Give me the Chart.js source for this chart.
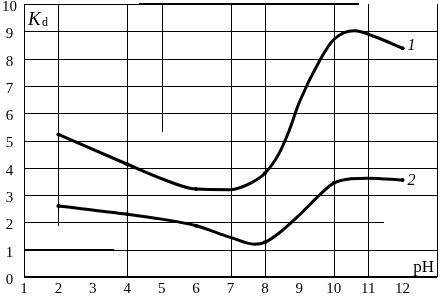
<!DOCTYPE html>
<html>
<head>
<meta charset="utf-8">
<script src="https://cdn.jsdelivr.net/npm/chart.js@4/dist/chart.umd.min.js"></script>
<style>
  html, body { margin: 0; padding: 0; background: #fff; }
  #wrap { width: 441px; height: 297px; }
</style>
</head>
<body>
<div id="wrap"><canvas id="kdChart"></canvas></div>
<script>
'use strict';
// data
var phTicks = [1, 2, 3, 4, 5, 6, 7, 8, 9, 10, 11, 12];
var kdTicks = [0, 1, 2, 3, 4, 5, 6, 7, 8, 9, 10];

var curve1Ph = [2, 4, 5, 6, 7, 7.6, 8, 8.4, 8.7, 9, 9.6, 10, 10.6, 11.2, 12];
var curve1Kd = [5.22, 4.13, 3.6, 3.22, 3.2, 3.45, 3.8, 4.5, 5.35, 6.4, 7.95, 8.7, 9.02, 8.8, 8.38];
var curve1Marks = [2, 4, 6, 8, 12];

var curve2Ph = [2, 4, 5, 6, 7, 7.7, 8, 8.5, 9, 9.6, 10, 10.5, 11, 12];
var curve2Kd = [2.6, 2.3, 2.12, 1.88, 1.45, 1.2, 1.27, 1.7, 2.27, 3.02, 3.44, 3.6, 3.62, 3.55];
var curve2Marks = [2, 4, 6, 8, 10, 12];

// grid pieces of the original figure (pH from, pH to, Kd from, Kd to)
var gridLines = [
  [1, 1, 0, 10], [2, 2, 1.88, 10], [4, 4, 0, 10], [5, 5, 5.3, 10],
  [7, 7, 0, 10], [8, 8, 0, 10], [10, 10, 0, 10], [11, 11, 0, 10], [13, 13, 0, 10],
  [1, 13, 9, 9], [1, 13, 8, 8], [1, 13, 7, 7], [1, 13, 6, 6], [1, 13, 5, 5],
  [1, 13, 4, 4], [1, 13, 3, 3], [1, 11.46, 2, 2], [1, 13, 1, 1], [1, 4.33, 10, 10]
];
var thickLines = [[1, 3.61, 1, 1], [4.33, 10.74, 10, 10], [1, 13, 0, 0]];

function toPoints(xs, ys){
  var pts = [];
  for (var i = 0; i < xs.length; i++){
    pts.push({x: xs[i], y: ys[i]});
  }
  return pts;
}

var serif = '"Liberation Serif", "DejaVu Serif", serif';

var figurePlugin = {
  id: 'figure',
  beforeDatasetsDraw: function(chart){
    var c = chart.ctx;
    var xs = chart.scales.x;
    var ys = chart.scales.y;
    c.save();
    c.strokeStyle = '#000';
    c.lineCap = 'butt';
    function seg(s, w){
      var x1 = Math.round(xs.getPixelForValue(s[0]));
      var x2 = Math.round(xs.getPixelForValue(s[1]));
      var y1 = Math.round(ys.getPixelForValue(s[2]));
      var y2 = Math.round(ys.getPixelForValue(s[3]));
      var off = (w % 2) ? 0.5 : 0;
      c.lineWidth = w;
      c.beginPath();
      if (x1 === x2){
        c.moveTo(x1 + off, y1);
        c.lineTo(x1 + off, y2);
      } else {
        c.moveTo(x1, y1 + off);
        c.lineTo(x2, y2 + off);
      }
      c.stroke();
    }
    gridLines.forEach(function(s){ seg(s, 1); });
    thickLines.forEach(function(s){ seg(s, 2); });
    c.restore();
  },
  afterDatasetsDraw: function(chart){
    var c = chart.ctx;
    var xs = chart.scales.x;
    var ys = chart.scales.y;
    c.save();
    c.fillStyle = '#000';
    c.textBaseline = 'alphabetic';
    // axis names
    c.font = 'italic 19px ' + serif;
    c.textAlign = 'left';
    c.fillText('K', 28, 25);
    c.font = '12px ' + serif;
    c.fillText('d', 42, 26);
    c.font = '17px ' + serif;
    c.textAlign = 'right';
    c.fillText('pH', 434, 272);
    // curve numbers next to the last points
    c.font = 'italic 16px ' + serif;
    c.textAlign = 'left';
    c.textBaseline = 'middle';
    var last1 = curve1Ph.length - 1;
    var last2 = curve2Ph.length - 1;
    c.fillText('1', xs.getPixelForValue(curve1Ph[last1]) + 5, ys.getPixelForValue(curve1Kd[last1]) - 2);
    c.fillText('2', xs.getPixelForValue(curve2Ph[last2]) + 5, ys.getPixelForValue(curve2Kd[last2]) + 1);
    c.restore();
  }
};

function markRadius(marks){
  return function(ctx){
    return marks.indexOf(ctx.raw.x) >= 0 ? 2 : 0;
  };
}

var ctx = document.getElementById('kdChart');
var myChart = new Chart(ctx, {
  type: 'line',
  data: {
    datasets: [{
      label: '1',
      data: toPoints(curve1Ph, curve1Kd),
      borderColor: '#000',
      backgroundColor: '#000',
      borderWidth: 3,
      cubicInterpolationMode: 'monotone',
      pointRadius: markRadius(curve1Marks),
      pointBorderWidth: 0
    }, {
      label: '2',
      data: toPoints(curve2Ph, curve2Kd),
      borderColor: '#000',
      backgroundColor: '#000',
      borderWidth: 3,
      cubicInterpolationMode: 'monotone',
      pointRadius: markRadius(curve2Marks),
      pointBorderWidth: 0
    }]
  },
  options: {
    responsive: true,
    maintainAspectRatio: false,
    animation: false,
    devicePixelRatio: 1,
    layout: { padding: { top: 1, right: 1, left: 0, bottom: 0 } },
    plugins: { legend: { display: false }, tooltip: { enabled: false } },
    scales: {
      x: {
        type: 'linear',
        min: 1,
        max: 13,
        afterFit: function(scale){
          scale.height = 20;
          scale.paddingLeft = 0;
          scale.paddingRight = 0;
        },
        afterBuildTicks: function(scale){
          scale.ticks = phTicks.map(function(v){ return {value: v}; });
        },
        grid: { display: false, drawTicks: false },
        border: { display: false },
        ticks: {
          autoSkip: false,
          maxRotation: 0,
          padding: 3,
          color: '#000',
          font: { family: serif, size: 15 }
        }
      },
      y: {
        min: 0,
        max: 10,
        afterFit: function(scale){
          scale.width = 24;
          scale.paddingTop = 0;
          scale.paddingBottom = 0;
        },
        afterBuildTicks: function(scale){
          scale.ticks = kdTicks.map(function(v){ return {value: v}; });
        },
        grid: { display: false, drawTicks: false },
        border: { display: false },
        ticks: {
          crossAlign: 'center',
          padding: 7,
          labelOffset: 3,
          color: '#000',
          font: { family: serif, size: 15 }
        }
      }
    }
  },
  plugins: [figurePlugin]
});
</script>
</body>
</html>
